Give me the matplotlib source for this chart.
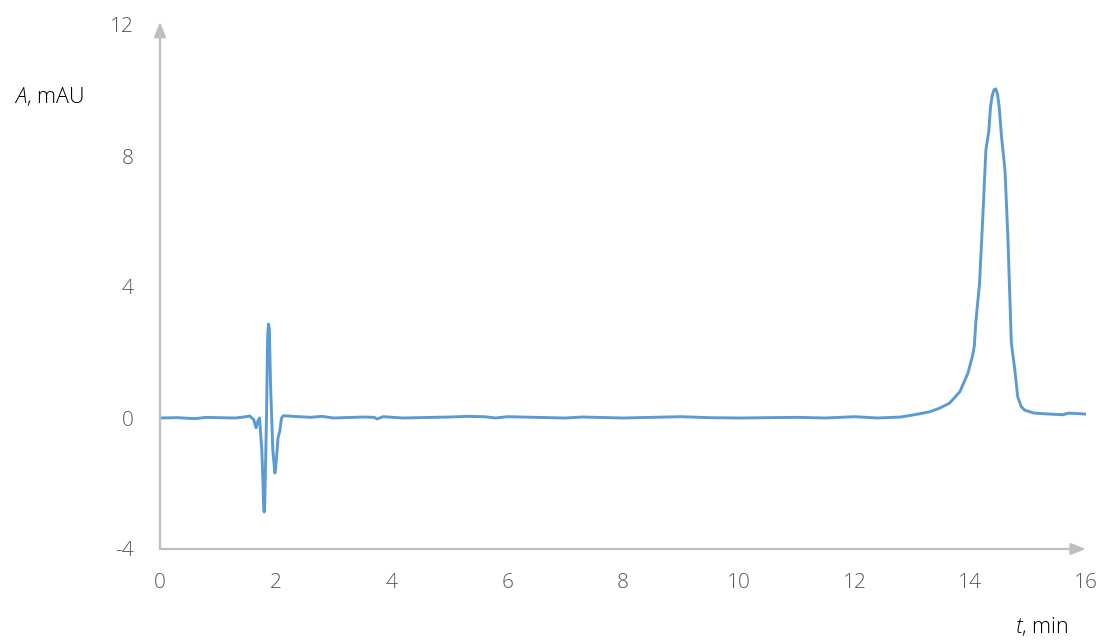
import numpy as np
import matplotlib.pyplot as plt

# chromatogram (t in min, A in mAU)
t = [0, 0.3, 0.6, 0.8, 1.0, 1.3, 1.45, 1.55, 1.62, 1.66, 1.69, 1.72, 1.76,
     1.78, 1.79, 1.80, 1.81, 1.84, 1.86, 1.875, 1.89, 1.91, 1.95, 1.985,
     2.0, 2.04, 2.07, 2.1, 2.13, 2.3, 2.6, 2.8, 3.0, 3.5, 3.7, 3.75, 3.85,
     4.2, 5.0, 5.3, 5.6, 5.8, 6.0, 7.0, 7.3, 8.0, 9.0, 9.5, 10.0, 11.0,
     11.5, 12.0, 12.4, 12.8, 13.1, 13.3, 13.47, 13.64, 13.82, 13.96, 14.04,
     14.07, 14.1, 14.16, 14.22, 14.27, 14.32, 14.35, 14.38, 14.41, 14.44,
     14.47, 14.5, 14.54, 14.6, 14.65, 14.71, 14.77, 14.82, 14.88, 14.94,
     15.1, 15.37, 15.6, 15.7, 16.0]
A = [0.0, 0.01, -0.02, 0.02, 0.01, 0.0, 0.03, 0.06, -0.05, -0.3, -0.1, 0.0,
     -1.0, -2.0, -2.7, -2.87, -2.6, 0.0, 2.5, 2.87, 2.7, 1.0, -1.0, -1.68,
     -1.5, -0.6, -0.4, 0.0, 0.07, 0.05, 0.02, 0.05, 0.0, 0.03, 0.02, -0.03,
     0.04, 0.0, 0.03, 0.05, 0.04, 0.0, 0.04, 0.0, 0.03, 0.0, 0.04, 0.01,
     0.0, 0.02, 0.0, 0.04, 0.0, 0.03, 0.12, 0.19, 0.3, 0.45, 0.8, 1.37,
     1.9, 2.2, 3.0, 4.1, 6.25, 8.18, 8.75, 9.5, 9.85, 10.02, 10.05, 9.9,
     9.5, 8.6, 7.57, 5.53, 2.29, 1.47, 0.65, 0.35, 0.24, 0.15, 0.12, 0.1,
     0.15, 0.12]

xticks = [0, 2, 4, 6, 8, 10, 12, 14, 16]
yticks = [-4, 0, 4, 8, 12]

plt.rcParams['font.family'] = ['Open Sans', 'DejaVu Sans']
plt.rcParams['axes.unicode_minus'] = False
plt.rcParams['mathtext.fontset'] = 'custom'
plt.rcParams['mathtext.it'] = 'Open Sans:italic:light'
plt.rcParams['mathtext.rm'] = 'Open Sans:light'
grey = '#595959'
axis_col = '#BFBFBF'

fig = plt.figure(figsize=(11.09, 6.44), dpi=100)
ax = fig.add_axes([160 / 1109, 95 / 644, 926 / 1109, 524 / 644])

ax.plot(t, A, color='#5B9BD5', lw=2.1, solid_joinstyle='round')

ax.set_xlim(0, 16)
ax.set_ylim(-4, 12)
for s in ax.spines.values():
    s.set_visible(False)
ax.set_xticks(xticks)
ax.set_yticks(yticks)
ax.tick_params(length=0, labelsize=15, labelcolor=grey)
ax.tick_params(axis='x', pad=17)
ax.tick_params(axis='y', pad=19)
for lab in ax.get_xticklabels() + ax.get_yticklabels():
    lab.set_fontweight('light')

# axes with arrow heads
arrow = dict(arrowstyle='-|>,head_length=0.9,head_width=0.35',
             color=axis_col, lw=1.6, shrinkA=0, shrinkB=0)
ax.annotate('', xy=(16, -4), xytext=(0, -4), arrowprops=arrow,
            annotation_clip=False)
ax.annotate('', xy=(0, 12.1), xytext=(0, -4), arrowprops=arrow,
            annotation_clip=False)

fig.text(14 / 1109, 1 - 97 / 644, r'$A$, mAU', fontsize=15.5,
         color='black', va='center', ha='left', fontweight='light')
fig.text(1068 / 1109, 1 - 627 / 644, r'$t$, min', fontsize=15.5,
         color='black', va='center', ha='right', fontweight='light')

fig.savefig('out.png', dpi=100)
